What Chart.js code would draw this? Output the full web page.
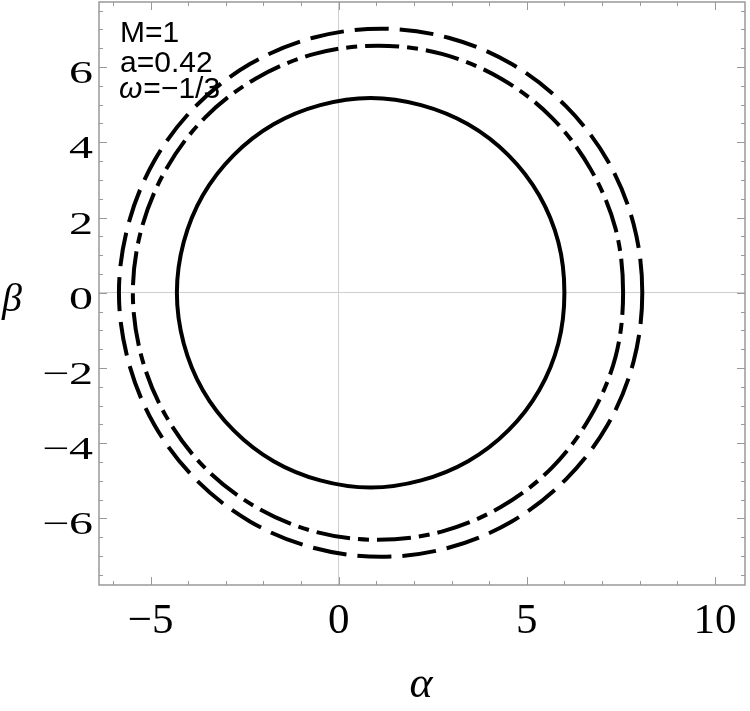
<!DOCTYPE html>
<html>
<head>
<meta charset="utf-8">
<title>Shadow</title>
<script src="https://cdn.jsdelivr.net/npm/chart.js@4.4.1/dist/chart.umd.min.js"></script>
<style>
  html, body { margin: 0; padding: 0; background: #fff; }
</style>
</head>
<body>
<canvas id="shadowChart" width="750" height="711"></canvas>
<script>
// Curvas (alpha, beta), partindo do ponto mais a direita
const solidAlpha = [6.00, 5.84, 5.33, 4.51, 3.44, 2.19, 0.85, -0.49, -1.73, -2.79, -3.61, -4.12, -4.30,
                    -4.12, -3.61, -2.79, -1.73, -0.49, 0.85, 2.19, 3.44, 4.51, 5.33, 5.84, 6.00];
const solidBeta = [0, 1.34, 2.59, 3.66, 4.48, 4.99, 5.18, 4.99, 4.48, 3.66, 2.59, 1.34, 0,
                   -1.34, -2.59, -3.66, -4.48, -4.99, -5.18, -4.99, -4.48, -3.66, -2.59, -1.34, 0];

const dashDotAlpha = [7.56, 7.36, 6.70, 5.67, 4.32, 2.74, 1.05, -0.64, -2.21, -3.56, -4.59, -5.24, -5.47,
                      -5.24, -4.59, -3.56, -2.21, -0.64, 1.05, 2.74, 4.32, 5.67, 6.70, 7.36, 7.56];
const dashDotBeta = [0, 1.70, 3.28, 4.65, 5.69, 6.35, 6.57, 6.35, 5.69, 4.65, 3.28, 1.70, 0,
                     -1.70, -3.28, -4.65, -5.69, -6.35, -6.57, -6.35, -5.69, -4.65, -3.28, -1.70, 0];

const dashedAlpha = [8.07, 7.84, 7.15, 6.04, 4.60, 2.92, 1.12, -0.68, -2.36, -3.80, -4.90, -5.59, -5.84,
                     -5.59, -4.90, -3.80, -2.36, -0.68, 1.12, 2.92, 4.60, 6.04, 7.15, 7.84, 8.07];
const dashedBeta = [0, 1.82, 3.51, 4.96, 6.08, 6.78, 7.02, 6.78, 6.08, 4.96, 3.51, 1.82, 0,
                    -1.82, -3.51, -4.96, -6.08, -6.78, -7.02, -6.78, -6.08, -4.96, -3.51, -1.82, 0];

// Rotulos dos eixos
const xTicks = [-5, 0, 5, 10];
const yTicks = [-6, -4, -2, 0, 2, 4, 6];
const paramLines = ['M=1', 'a=0.42'];
const omegaText = '=\u22121/3';

const SERIF = '"Liberation Serif", "Times New Roman", Times, serif';
const SANS = '"Liberation Sans", Arial, Helvetica, sans-serif';

// Fecha a curva: repete um vizinho em cada ponta para a spline ficar suave
function toClosedPoints(xs, ys) {
    const n = xs.length;
    const pts = xs.map((x, i) => ({ x: x, y: ys[i] }));
    pts.unshift({ x: xs[n - 2], y: ys[n - 2] });
    pts.push({ x: xs[1], y: ys[1] });
    return pts;
}

function fmt(v) {
    return v < 0 ? '\u2212' + Math.abs(v) : String(v);
}

// Moldura, marcas e textos no estilo do Mathematica
const framePlugin = {
    id: 'frame',
    afterDraw(chart) {
        const ctx = chart.ctx;
        const area = chart.chartArea;
        const xs = chart.scales.x;
        const ys = chart.scales.y;

        ctx.save();
        ctx.strokeStyle = '#999';
        ctx.lineWidth = 1.5;
        ctx.strokeRect(area.left, area.top, area.right - area.left, area.bottom - area.top);

        ctx.lineWidth = 1;
        ctx.beginPath();
        for (let v = -6; v <= 10; v++) {
            const px = Math.round(xs.getPixelForValue(v)) + 0.5;
            const len = v % 5 === 0 ? 8 : 4;
            ctx.moveTo(px, area.bottom); ctx.lineTo(px, area.bottom - len);
            ctx.moveTo(px, area.top); ctx.lineTo(px, area.top + len);
        }
        for (let v = -7.5; v <= 7.5; v += 0.5) {
            const py = Math.round(ys.getPixelForValue(v)) + 0.5;
            const len = v % 2 === 0 ? 8 : 4;
            ctx.moveTo(area.left, py); ctx.lineTo(area.left + len, py);
            ctx.moveTo(area.right, py); ctx.lineTo(area.right - len, py);
        }
        ctx.stroke();

        // numeros dos eixos
        ctx.fillStyle = '#000';
        ctx.font = '43px ' + SERIF;
        ctx.textAlign = 'center';
        ctx.textBaseline = 'alphabetic';
        xTicks.forEach(v => {
            ctx.fillText(fmt(v), xs.getPixelForValue(v), 633);
        });

        ctx.font = '32px ' + SERIF;
        ctx.textAlign = 'right';
        yTicks.forEach(v => {
            ctx.save();
            ctx.translate(93, ys.getPixelForValue(v) + 16);
            ctx.scale(1.5, 1);
            ctx.fillText(fmt(v), 0, 0);
            ctx.restore();
        });

        // titulos
        ctx.font = 'italic 44px ' + SERIF;
        ctx.textAlign = 'center';
        ctx.fillText('\u03b1', 421, 697);
        ctx.textAlign = 'left';
        ctx.font = 'italic 40px ' + SERIF;
        ctx.fillText('\u03b2', 2, 311);

        // parametros
        ctx.font = '30px ' + SANS;
        ctx.fillText(paramLines[0], 120, 42);
        ctx.fillText(paramLines[1], 120, 72);
        ctx.font = 'italic 30px ' + SANS;
        ctx.fillText('\u03c9', 119, 98);
        const w = ctx.measureText('\u03c9').width;
        ctx.font = '30px ' + SANS;
        ctx.fillText(omegaText, 119 + w + 1, 98);
        ctx.restore();
    }
};

function lineSet(xs, ys, dash) {
    const pts = toClosedPoints(xs, ys);
    const last = pts.length - 1;
    return {
        data: pts,
        showLine: true,
        borderColor: '#000',
        borderWidth: 4,
        borderDash: dash,
        borderCapStyle: 'butt',
        pointRadius: 0,
        tension: 0.34,
        fill: false,
        segment: {
            // trechos extras so servem para a curvatura
            borderColor: c => (c.p0DataIndex === 0 || c.p1DataIndex === last) ? 'rgba(0,0,0,0)' : undefined
        }
    };
}

function drawChart() {
    const ctx = document.getElementById('shadowChart').getContext('2d');
    new Chart(ctx, {
        type: 'scatter',
        data: {
            datasets: [
                lineSet(solidAlpha, solidBeta, []),
                lineSet(dashDotAlpha, dashDotBeta, [34, 8, 11, 8]),
                lineSet(dashedAlpha, dashedBeta, [34, 11])
            ]
        },
        options: {
            responsive: false,
            animation: false,
            layout: { padding: { top: 2, right: 5, left: 0, bottom: 0 } },
            plugins: {
                legend: { display: false },
                tooltip: { enabled: false }
            },
            scales: {
                x: {
                    type: 'linear',
                    min: -6.37,
                    max: 10.8,
                    border: { display: false },
                    ticks: { display: false, stepSize: 5, includeBounds: false },
                    grid: {
                        drawTicks: false,
                        color: c => c.tick && c.tick.value === 0 ? '#cfcfcf' : 'rgba(0,0,0,0)'
                    },
                    afterFit: s => { s.height = 126; }
                },
                y: {
                    type: 'linear',
                    min: -7.77,
                    max: 7.73,
                    border: { display: false },
                    ticks: { display: false, stepSize: 2, includeBounds: false },
                    grid: {
                        drawTicks: false,
                        color: c => c.tick && c.tick.value === 0 ? '#cfcfcf' : 'rgba(0,0,0,0)'
                    },
                    afterFit: s => { s.width = 99; }
                }
            }
        },
        plugins: [framePlugin]
    });
}

// Espera as fontes locais antes de desenhar
Promise.all([
    document.fonts.load('43px "Liberation Serif"'),
    document.fonts.load('italic 43px "Liberation Serif"'),
    document.fonts.load('30px "Liberation Sans"'),
    document.fonts.load('italic 30px "Liberation Sans"')
]).then(drawChart, drawChart);
</script>
</body>
</html>
